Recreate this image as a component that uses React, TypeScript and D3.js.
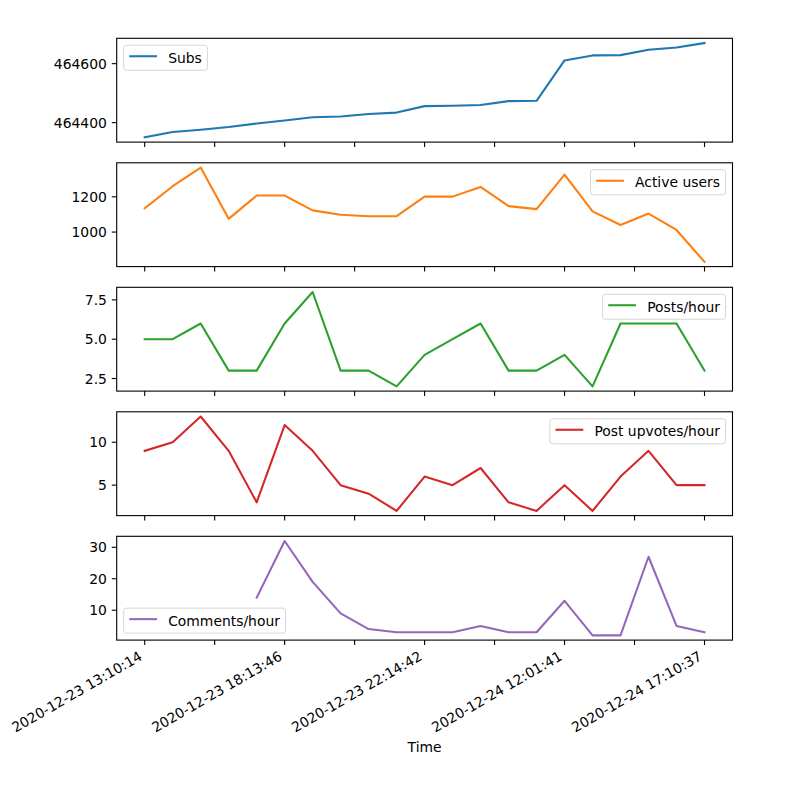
import React from "react";
import * as d3 from "d3";

const xLabels = [
  "2020-12-23 13:10:14",
  "2020-12-23 18:13:46",
  "2020-12-23 22:14:42",
  "2020-12-24 12:01:41",
  "2020-12-24 17:10:37",
];
const xLabelIndex = [0, 5, 10, 15, 20];
const xTickIndex = [0, 2.5, 5, 7.5, 10, 12.5, 15, 17.5, 20];

const subs = [464350, 464368, 464376, 464385, 464397, 464407, 464418, 464421, 464429, 464434, 464456, 464457, 464460, 464473, 464474, 464611, 464628, 464629, 464647, 464655, 464670];
const activeUsers = [1135, 1260, 1366, 1075, 1207, 1207, 1123, 1098, 1090, 1090, 1201, 1201, 1256, 1147, 1130, 1326, 1117, 1040, 1105, 1012, 831];
const postsPerHour = [5, 5, 6, 3, 3, 6, 8, 3, 3, 2, 4, 5, 6, 3, 3, 4, 2, 6, 6, 6, 3];
const upvotesPerHour = [9, 10, 13, 9, 3, 12, 9, 5, 4, 2, 6, 5, 7, 3, 2, 5, 2, 6, 9, 5, 5];
const commentsPerHour: (number | null)[] = [null, null, null, null, 14, 32, 19, 9, 4, 3, 3, 3, 5, 3, 3, 13, 2, 2, 27, 5, 3];

const subsTicks = [464400, 464600];
const activeTicks = [1000, 1200];
const postsTicks = [2.5, 5.0, 7.5];
const upvotesTicks = [5, 10];
const commentsTicks = [10, 20, 30];

const panels = [
  { name: "Subs", values: subs as (number | null)[], ticks: subsTicks, fmt: d3.format("d"), color: "#1f77b4", loc: "ul" },
  { name: "Active users", values: activeUsers as (number | null)[], ticks: activeTicks, fmt: d3.format("d"), color: "#ff7f0e", loc: "ur" },
  { name: "Posts/hour", values: postsPerHour as (number | null)[], ticks: postsTicks, fmt: d3.format(".1f"), color: "#2ca02c", loc: "ur" },
  { name: "Post upvotes/hour", values: upvotesPerHour as (number | null)[], ticks: upvotesTicks, fmt: d3.format("d"), color: "#d62728", loc: "ur" },
  { name: "Comments/hour", values: commentsPerHour, ticks: commentsTicks, fmt: d3.format("d"), color: "#9467bd", loc: "ll" },
];

const FONT = "DejaVu Sans, sans-serif";
const FS = 13.9;
const LEFT = 116.7;
const RIGHT = 732.5;
const TOP0 = 38.3;
const STEP = 124.5;
const H = 103.8;
const TICK = 4.9;
const PAD = 4.9;

function measure(text: string): number {
  if (typeof document === "undefined") return text.length * 8;
  const c = document.createElement("canvas");
  const ctx = c.getContext("2d");
  if (!ctx) return text.length * 8;
  ctx.font = `${FS}px "DejaVu Sans"`;
  return ctx.measureText(text).width;
}

export default function App() {
  const x = d3.scaleLinear().domain([-1, 21]).range([LEFT, RIGHT]);
  const bottomLast = TOP0 + 4 * STEP + H;

  return (
    <svg width={802} height={800} style={{ display: "block", position: "absolute", left: 0, top: 0 }} fontFamily={FONT}>
      <rect width={802} height={800} fill="white" />
      {panels.map((p, k) => {
        const top = TOP0 + k * STEP;
        const bottom = top + H;
        const vals = p.values.filter((v): v is number => v != null);
        const mn = d3.min(vals)!;
        const mx = d3.max(vals)!;
        const m = (mx - mn) * 0.05;
        const y = d3.scaleLinear().domain([mn - m, mx + m]).range([bottom, top]);
        const line = d3
          .line<number | null>()
          .defined((d) => d != null)
          .x((_, i) => x(i))
          .y((d) => y(d as number));
        const tw = measure(p.name);
        const lw = 5.6 + 27.8 + 11.1 + tw + 5.6;
        const lh = 25;
        let lx = 0;
        let ly = 0;
        if (p.loc === "ul") { lx = LEFT + 6.95; ly = top + 6.95; }
        if (p.loc === "ur") { lx = RIGHT - 6.95 - lw; ly = top + 6.95; }
        if (p.loc === "ll") { lx = LEFT + 6.95; ly = bottom - 6.95 - lh; }
        return (
          <g key={p.name}>
            <path d={line(p.values) || ""} fill="none" stroke={p.color} strokeWidth={2.08} strokeLinejoin="round" strokeLinecap="square" />
            <rect x={LEFT} y={top} width={RIGHT - LEFT} height={H} fill="none" stroke="black" strokeWidth={1.1} />
            {p.ticks.map((t) => (
              <g key={t}>
                <line x1={LEFT - TICK} x2={LEFT} y1={y(t)} y2={y(t)} stroke="black" strokeWidth={1.1} />
                <text x={LEFT - TICK - PAD} y={y(t)} textAnchor="end" dominantBaseline="central" fontSize={FS} fill="black">
                  {p.fmt(t)}
                </text>
              </g>
            ))}
            {xTickIndex.map((t) => (
              <line key={t} x1={x(t)} x2={x(t)} y1={bottom} y2={bottom + TICK} stroke="black" strokeWidth={1.1} />
            ))}
            <g>
              <rect x={lx} y={ly} width={lw} height={lh} rx={2.8} ry={2.8} fill="white" fillOpacity={0.8} stroke="#cccccc" strokeOpacity={0.8} strokeWidth={1} />
              <line x1={lx + 5.6} x2={lx + 5.6 + 27.8} y1={ly + lh / 2 - 1.5} y2={ly + lh / 2 - 1.5} stroke={p.color} strokeWidth={2.08} />
              <text x={lx + 5.6 + 27.8 + 11.1} y={ly + lh / 2} dominantBaseline="central" fontSize={FS} fill="black">
                {p.name}
              </text>
            </g>
          </g>
        );
      })}
      {xLabelIndex.map((idx, j) => {
        const ax = x(idx) - 1.5;
        const ay = bottomLast + TICK + PAD + 9.2;
        return (
          <text key={idx} x={0} y={0} transform={`translate(${ax},${ay}) rotate(-30)`} textAnchor="end" fontSize={FS} fill="black">
            {xLabels[j]}
          </text>
        );
      })}
      <text x={(LEFT + RIGHT) / 2} y={752} textAnchor="middle" fontSize={FS} fill="black">
        Time
      </text>
    </svg>
  );
}
